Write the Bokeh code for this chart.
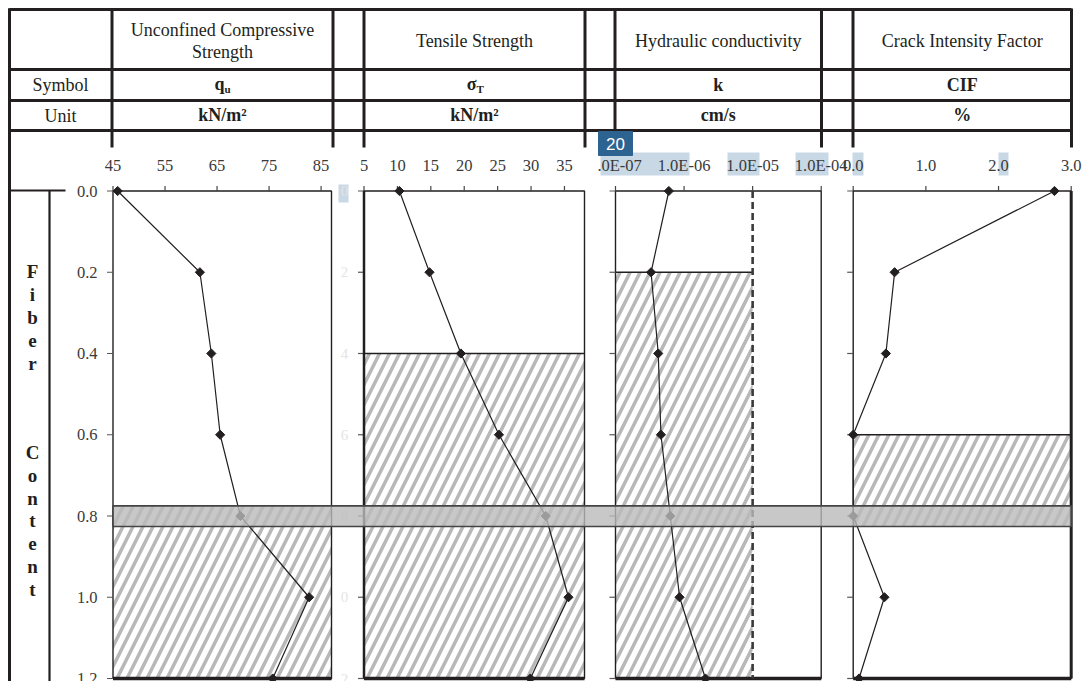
import math
from bokeh.plotting import figure
from bokeh.models import Range1d, LogScale
from bokeh.core.properties import value
from bokeh.embed import file_html
from bokeh.resources import INLINE

# ---------------- data ----------------
fiber_content = [0.0, 0.2, 0.4, 0.6, 0.8, 1.0, 1.2]
ucs_kpa = [45.9, 61.7, 63.9, 65.6, 69.5, 82.7, 75.7]
tensile_kpa = [10.3, 14.8, 19.5, 25.2, 32.2, 35.6, 29.9]
hyd_k = [6.0e-7, 3.3e-7, 4.2e-7, 4.6e-7, 6.3e-7, 8.6e-7, 2.05e-6]
cif_pct = [2.77, 0.57, 0.45, 0.0, 0.0, 0.43, 0.08]

fc_ticks = [0.0, 0.2, 0.4, 0.6, 0.8, 1.0, 1.2]
fc_labels = ["0.0", "0.2", "0.4", "0.6", "0.8", "1.0", "1.2"]
ucs_ticks = [45, 55, 65, 75, 85]
ucs_labels = ["45", "55", "65", "75", "85"]
ts_ticks = [5, 10, 15, 20, 25, 30, 35]
ts_labels = ["5", "10", "15", "20", "25", "30", "35"]
k_ticks = [1e-7, 1e-6, 1e-5, 1e-4]
k_labels = ["1.0E-07", "1.0E-06", "1.0E-05", "1.0E-04"]
cif_ticks = [0.0, 1.0, 2.0, 3.0]
cif_labels = ["0.0", "1.0", "2.0", "3.0"]

# axis limits
fc_lim = [0.0, 1.2]
ucs_lim = [45, 87]
ts_lim = [5, 38]
k_lim = [1e-7, 1e-4]
cif_lim = [0.0, 3.0]

# hatched (acceptable) zones, in fiber content
ucs_zone = [0.775, 1.2]
ts_zone = [0.4, 1.2]
k_zone = [0.2, 1.2]
k_zone_x = [1e-7, 1e-5]
cif_zone = [0.6, 0.826]
k_limit = 1e-5
band = [0.775, 0.826]   # highlighted optimum row

header_titles = ["Tensile Strength", "Hydraulic conductivity", "Crack Intensity Factor"]
units = ["kN/m\u00b2", "kN/m\u00b2", "cm/s", "%"]

# ---------------- layout (canvas pixels) ----------------
W, H = 1084, 681
PX = {"ucs": (112.5, 331.0), "ts": (363.5, 584.0), "k": (615.0, 820.7), "cif": (852.7, 1070.7)}
PY = (190.5, 678.0)
INK = "#231f20"
SERIF = value("Liberation Serif")


def lin_x(v0, v1, p0, p1):
    s = (v1 - v0) / (p1 - p0)
    return Range1d(v0 - p0 * s, v0 + (W - p0) * s)


def log_x(v0, v1, p0, p1):
    a, b = math.log10(v0), math.log10(v1)
    s = (b - a) / (p1 - p0)
    return Range1d(10 ** (a - p0 * s), 10 ** (a + (W - p0) * s))


def lin_y(v0, v1, p0, p1):
    s = (v1 - v0) / (p1 - p0)
    return Range1d(start=v0 + (H - p0) * s, end=v0 - p0 * s)


p = figure(width=W, height=H, x_range=Range1d(0, W), y_range=Range1d(H, 0),
           min_border=0, toolbar_location=None, output_backend="svg",
           x_axis_location=None, y_axis_location=None)
p.outline_line_color = None
p.xgrid.visible = False
p.ygrid.visible = False
p.background_fill_color = "white"
p.border_fill_color = "white"

p.extra_x_ranges = {
    "ucs": lin_x(ucs_lim[0], ucs_lim[1], *PX["ucs"]),
    "ts": lin_x(ts_lim[0], ts_lim[1], *PX["ts"]),
    "k": log_x(k_lim[0], k_lim[1], *PX["k"]),
    "cif": lin_x(cif_lim[0], cif_lim[1], *PX["cif"]),
}
p.extra_x_scales = {"k": LogScale()}
p.extra_y_ranges = {"fc": lin_y(fc_lim[0], fc_lim[1], *PY)}

# light-blue selection highlights (behind texts)
hl_l = [600, 727, 795, 852, 998, 338]
hl_r = [689, 759, 828, 863, 1008, 348]
hl_t = [152, 152, 152, 152, 152, 184]
hl_b = [175, 175, 175, 175, 175, 202]
p.quad(left=hl_l, right=hl_r, top=hl_t, bottom=hl_b, fill_color="#c9d8e5", line_color=None)

# hatched zones
HATCH = dict(fill_color=None, line_color=None, hatch_pattern="/", hatch_color="#b8b8b8",
             hatch_weight=3.5, hatch_scale=20, y_range_name="fc")
p.quad(left=[ucs_lim[0]], right=[ucs_lim[1]], top=[ucs_zone[0]], bottom=[ucs_zone[1]], x_range_name="ucs", **HATCH)
p.quad(left=[ts_lim[0]], right=[ts_lim[1]], top=[ts_zone[0]], bottom=[ts_zone[1]], x_range_name="ts", **HATCH)
p.quad(left=[k_zone_x[0]], right=[k_zone_x[1]], top=[k_zone[0]], bottom=[k_zone[1]], x_range_name="k", **HATCH)
p.quad(left=[cif_lim[0]], right=[cif_lim[1]], top=[cif_zone[0]], bottom=[cif_zone[1]], x_range_name="cif", **HATCH)

# zone upper edges
p.segment(x0=[ts_lim[0]], x1=[ts_lim[1]], y0=[ts_zone[0]], y1=[ts_zone[0]], x_range_name="ts", y_range_name="fc", line_color=INK, line_width=1.5)
p.segment(x0=[k_zone_x[0]], x1=[k_zone_x[1]], y0=[k_zone[0]], y1=[k_zone[0]], x_range_name="k", y_range_name="fc", line_color=INK, line_width=1.5)
p.segment(x0=[cif_lim[0]], x1=[cif_lim[1]], y0=[cif_zone[0]], y1=[cif_zone[0]], x_range_name="cif", y_range_name="fc", line_color=INK, line_width=1.5)

# panel frames
for name, lim in (("ucs", ucs_lim), ("ts", ts_lim), ("k", k_lim), ("cif", cif_lim)):
    p.quad(left=[lim[0]], right=[lim[1]], top=[fc_lim[0]], bottom=[fc_lim[1]], fill_color=None,
           line_color=INK, line_width=1.4, x_range_name=name, y_range_name="fc")
    p.segment(x0=[lim[0]], x1=[lim[1]], y0=[fc_lim[1]], y1=[fc_lim[1]], line_color=INK, line_width=3.5,
              x_range_name=name, y_range_name="fc")
    # left ticks
    x0 = PX[name][0]
    p.segment(x0=[x0 - 6] * len(fc_ticks), x1=[x0] * len(fc_ticks), y0=fc_ticks, y1=fc_ticks,
              line_color="#555555", line_width=1.2, y_range_name="fc")
p.segment(x0=[ts_lim[0]], x1=[ts_lim[0]], y0=[fc_lim[0]], y1=[fc_lim[1]], line_color=INK, line_width=2.5,
          x_range_name="ts", y_range_name="fc")
p.segment(x0=[cif_lim[1]], x1=[cif_lim[1]], y0=[fc_lim[0]], y1=[fc_lim[1]], line_color=INK, line_width=3,
          x_range_name="cif", y_range_name="fc")

# dashed limit line in k panel
p.segment(x0=[k_limit], x1=[k_limit], y0=[fc_lim[0]], y1=[fc_lim[1]], line_color="#3a3a3a", line_width=2.6,
          line_dash="7 4", x_range_name="k", y_range_name="fc")

# top ticks & labels
TICKLBL = dict(text_font=SERIF, text_font_size="16.5px", text_color="#3a3a3a",
               text_align="center", text_baseline="middle")
for name, ticks, labels in (("ucs", ucs_ticks, ucs_labels), ("ts", ts_ticks, ts_labels),
                            ("k", k_ticks, k_labels), ("cif", cif_ticks, cif_labels)):
    n = len(ticks)
    p.segment(x0=ticks, x1=ticks, y0=[PY[0] - 5] * n, y1=[PY[0]] * n, line_color="#444444",
              line_width=1.2, x_range_name=name)
    p.text(x=ticks, y=[165] * n, text=labels, x_range_name=name, **TICKLBL)

# mask hiding the leading digit of the first k label
p.quad(left=[585], right=[596.5], top=[154], bottom=[176], fill_color="white", line_color=None)

# fiber content tick labels
p.text(x=[97] * len(fc_ticks), y=fc_ticks, text=fc_labels, y_range_name="fc",
       text_font=SERIF, text_font_size="16.5px", text_color="#3a3a3a",
       text_align="right", text_baseline="middle")
# faint ghost labels of the tensile panel
p.text(x=[344] * len(fc_ticks), y=fc_ticks, text=[s[-1] for s in fc_labels], y_range_name="fc",
       text_font=SERIF, text_font_size="15px", text_color="#e4e4e4",
       text_align="center", text_baseline="middle")

# data series
for name, vals in (("ucs", ucs_kpa), ("ts", tensile_kpa), ("k", hyd_k), ("cif", cif_pct)):
    p.line(x=vals, y=fiber_content, line_color=INK, line_width=1.2, x_range_name=name, y_range_name="fc")
    p.scatter(x=vals, y=fiber_content, marker="square", angle=math.pi / 4, size=6.5,
              fill_color=INK, line_color=INK, x_range_name=name, y_range_name="fc")

# highlighted band across panels
p.quad(left=[PX["ucs"][0]], right=[PX["cif"][1]], top=[band[0]], bottom=[band[1]],
       fill_color="#bababa", fill_alpha=0.8, line_color="#444444", line_width=1.6, y_range_name="fc")

# ---------------- table ----------------
tx = [9, 111.5, 332.5, 363.5, 584.5, 614.5, 821, 852.5, 1071]
p.segment(x0=tx, x1=tx, y0=[8] * len(tx), y1=[147] * len(tx), line_color=INK, line_width=3)
p.segment(x0=[9], x1=[9], y0=[8], y1=[H], line_color=INK, line_width=3)
ty = [9, 69, 100, 130]
p.segment(x0=[9] * 4, x1=[1071] * 4, y0=ty, y1=ty, line_color=INK, line_width=3)
# fiber content label box
p.segment(x0=[9, 49], x1=[65, 49], y0=[190, 190], y1=[190, H], line_color=INK, line_width=2.2)

HDR = dict(text_font=SERIF, text_font_size="18px", text_color=INK, text_align="center", text_baseline="middle")
col_c = [(tx[1] + tx[2]) / 2, (tx[3] + tx[4]) / 2, (tx[5] + tx[6]) / 2, (tx[7] + tx[8]) / 2]
p.text(x=[col_c[0], col_c[0]], y=[29, 51], text=["Unconfined Compressive", "Strength"], **HDR)
p.text(x=col_c[1:], y=[40, 40, 40], text=header_titles, **HDR)
p.text(x=[60, 60], y=[84.5, 115], text=["Symbol", "Unit"], **HDR)

BOLD = dict(HDR, text_font_style="bold")
p.text(x=col_c[2:], y=[84.5, 84.5], text=["k", "CIF"], **BOLD)
p.text(x=col_c, y=[114] * 4, text=units, **BOLD)
p.text(x=[col_c[0] + 2, col_c[1] + 2], y=[83.5, 83.5], text=["q", "\u03c3"],
       **dict(BOLD, text_align="right"))
p.text(x=[col_c[0] + 2, col_c[1] + 2], y=[88.5, 88.5], text=["u", "T"],
       **dict(BOLD, text_align="left", text_font_size="11px"))

# vertical "Fiber Content" label
letters = list("Fiber") + list("Content")
ly = [271 + 23 * i for i in range(5)] + [452 + 22.8 * i for i in range(7)]
p.text(x=[32] * len(letters), y=ly, text=letters, text_font=SERIF, text_font_size="19px",
       text_font_style="bold", text_color=INK, text_align="center", text_baseline="middle")

# badge
p.quad(left=[598], right=[632], top=[131], bottom=[155], fill_color="#2d6391", line_color="#2d6391")
p.text(x=[615], y=[143.5], text=["20"], text_font=value("Liberation Sans"), text_font_size="17px",
       text_color="white", text_align="center", text_baseline="middle")

open("out.html", "w").write(file_html(p, INLINE))
